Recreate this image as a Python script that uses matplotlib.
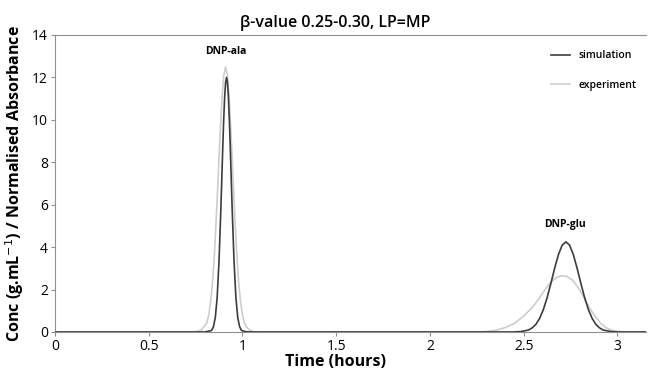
import matplotlib
matplotlib.use('Agg')
from matplotlib import pyplot as plt

# Simulated concentration
sim_time = [0.0, 0.80, 0.835, 0.845, 0.855, 0.865, 0.875, 0.885, 0.895, 0.90, 0.905,
            0.91, 0.915, 0.92, 0.925, 0.93, 0.935, 0.945, 0.955, 0.965, 0.975,
            0.985, 0.995, 1.02, 1.05,
            2.445, 2.485, 2.525, 2.545, 2.565, 2.585, 2.605, 2.625, 2.645, 2.665,
            2.685, 2.705, 2.725, 2.745, 2.765, 2.785, 2.805, 2.825, 2.845, 2.865,
            2.885, 2.905, 2.925, 2.965, 3.005, 3.15]
sim_conc = [0.0, 0.0, 0.07, 0.24, 0.67, 1.62, 3.34, 5.84, 8.71, 10.02, 11.08,
            11.76, 12.0, 11.76, 11.08, 10.02, 8.71, 5.84, 3.34, 1.62, 0.67,
            0.24, 0.07, 0.01, 0.0,
            0.0, 0.02, 0.09, 0.19, 0.36, 0.64, 1.06, 1.62, 2.29, 3.00,
            3.64, 4.09, 4.25, 4.09, 3.64, 3.00, 2.29, 1.62, 1.06, 0.64,
            0.36, 0.19, 0.09, 0.02, 0.0, 0.0]

# Experimental normalised absorbance
exp_time = [0.0, 0.73, 0.76, 0.78, 0.80, 0.81, 0.82, 0.83, 0.84, 0.85, 0.86, 0.87,
            0.88, 0.89, 0.90, 0.91, 0.92, 0.93, 0.94, 0.95, 0.96, 0.97,
            0.98, 0.99, 1.00, 1.01, 1.02, 1.04, 1.06, 1.09,
            2.25, 2.30, 2.35, 2.40, 2.45, 2.50, 2.55, 2.58, 2.61, 2.64, 2.67,
            2.70, 2.73, 2.76, 2.79, 2.82, 2.85, 2.88, 2.91, 2.94, 2.97,
            3.00, 3.05, 3.15]
exp_abs = [0.0, 0.0, 0.03, 0.1, 0.3, 0.45, 0.8, 1.4, 2.3, 3.6, 5.3, 7.2,
           9.15, 10.9, 12.07, 12.5, 12.07, 10.9, 9.15, 7.2, 5.3, 3.6,
           2.3, 1.4, 0.8, 0.45, 0.25, 0.08, 0.02, 0.0,
           0.0, 0.02, 0.08, 0.2, 0.4, 0.75, 1.2, 1.55, 1.95, 2.3, 2.55,
           2.65, 2.62, 2.45, 2.1, 1.65, 1.15, 0.75, 0.42, 0.2, 0.08,
           0.03, 0.0, 0.0]

x_ticks = [0, 0.5, 1, 1.5, 2, 2.5, 3]
x_tick_labels = ['0', '0.5', '1', '1.5', '2', '2.5', '3']
y_ticks = [0, 2, 4, 6, 8, 10, 12, 14]

plt.rcParams['font.family'] = ['Open Sans', 'DejaVu Sans']

fig = plt.figure(figsize=(6.49, 3.75), dpi=100)
ax = fig.add_axes([0.0847, 0.1147, 0.91, 0.792])

ax.plot(exp_time, exp_abs, color='#cdcdcd', lw=1.2, label='experiment', zorder=2)
ax.plot(sim_time, sim_conc, color='#3c3c3c', lw=1.2, label='simulation', zorder=3)

ax.set_xlim(0, 3.15)
ax.set_ylim(0, 14)
ax.set_xticks(x_ticks)
ax.set_xticklabels(x_tick_labels)
ax.set_yticks(y_ticks)
ax.tick_params(labelsize=10, length=3, color='#909090', pad=2)

for side in ['left', 'bottom', 'top']:
    ax.spines[side].set_color('#909090')
ax.spines['right'].set_visible(False)

ax.set_title('β-value 0.25-0.30, LP=MP', fontsize=11.5, fontweight='semibold',
             x=0.475, pad=6)
ax.set_xlabel('Time (hours)', fontsize=11.5, fontweight='bold', labelpad=1)
ax.xaxis.set_label_coords(0.475, -0.075)
ax.set_ylabel(r'Conc (g.mL$^{-1}$) / Normalised Absorbance', fontsize=11.5,
              fontweight='bold', labelpad=4)

ax.text(0.91, 13.2, 'DNP-ala', fontsize=7.5, fontweight='bold', ha='center', va='center')
ax.text(2.72, 5.05, 'DNP-glu', fontsize=7.5, fontweight='bold', ha='center', va='center')

handles, labels = ax.get_legend_handles_labels()
ax.legend(handles[::-1], labels[::-1], loc='upper right', frameon=False,
          prop={'weight': 'semibold', 'size': 7.5},
          handlelength=1.8, labelspacing=1.8, bbox_to_anchor=(1.0, 0.98))

fig.savefig('out.png', dpi=100)
